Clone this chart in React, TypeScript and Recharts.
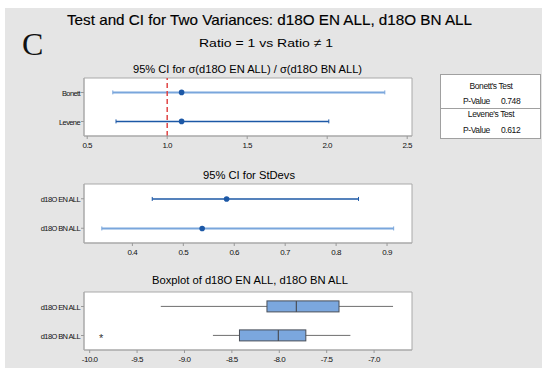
import React from 'react';
import { ComposedChart, Bar, XAxis, YAxis, CartesianGrid, ReferenceLine } from 'recharts';

// ---------- data ----------
const ratioTests = ['Bonett', 'Levene'];
const ratioEst = [1.09, 1.09];
const ratioLow = [0.66, 0.68];
const ratioHigh = [2.36, 2.01];
const ratioTicks = [0.5, 1.0, 1.5, 2.0, 2.5];

const sdGroups = ['d18O EN ALL', 'd18O BN ALL'];
const sdEst = [0.585, 0.537];
const sdLow = [0.439, 0.34];
const sdHigh = [0.844, 0.913];
const sdTicks = [0.4, 0.5, 0.6, 0.7, 0.8, 0.9];

const boxGroups = ['d18O EN ALL', 'd18O BN ALL'];
const boxMin = [-9.25, -8.7];
const boxQ1 = [-8.13, -8.42];
const boxMedian = [-7.82, -8.01];
const boxQ3 = [-7.37, -7.72];
const boxMax = [-6.8, -7.25];
const boxOutliers: number[][] = [[], [-9.88]];
const boxTicks = [-10.0, -9.5, -9.0, -8.5, -8.0, -7.5, -7.0];

const testNames = ["Bonett's Test", "Levene's Test"];
const pValues = ['0.748', '0.612'];

// ---------- derived tables ----------
const ratioData = ratioTests.map((name, i) => ({ name, est: ratioEst[i], range: [ratioLow[i], ratioHigh[i]] }));
const sdData = sdGroups.map((name, i) => ({ name, est: sdEst[i], range: [sdLow[i], sdHigh[i]] }));
const boxData = boxGroups.map((name, i) => ({
  name, range: [boxMin[i], boxMax[i]], q1: boxQ1[i], med: boxMedian[i], q3: boxQ3[i], out: boxOutliers[i],
}));

// ---------- styles ----------
const FONT = '"Liberation Sans", "DejaVu Sans", sans-serif';
const DARK_BLUE = '#1c58a6';
const LIGHT_BLUE = '#79a6dc';
const ratioLineColors = [LIGHT_BLUE, DARK_BLUE];
const sdLineColors = [DARK_BLUE, LIGHT_BLUE];
const ratioLineWidths = [2, 1.5];
const sdLineWidths = [1.5, 2];

const makeCIShape = (colors: string[], widths: number[]) => (props: any) => {
  const { x, y, width, height, payload, index } = props;
  const cy = y + height / 2;
  const lo = payload.range[0];
  const hi = payload.range[1];
  const px = (v: number) => x + (width * (v - lo)) / (hi - lo);
  const c = colors[index % colors.length];
  return (
    <g>
      <line x1={x} y1={cy} x2={x + width} y2={cy} stroke={c} strokeWidth={widths[index % widths.length]} />
      <line x1={x} y1={cy - 2} x2={x} y2={cy + 2} stroke={c} strokeWidth={1} />
      <line x1={x + width} y1={cy - 2} x2={x + width} y2={cy + 2} stroke={c} strokeWidth={1} />
      <circle cx={px(payload.est)} cy={cy} r={2.8} fill={DARK_BLUE} />
    </g>
  );
};

const BoxShape = (props: any) => {
  const { x, y, width, height, payload } = props;
  const cy = y + height / 2;
  const lo = payload.range[0];
  const hi = payload.range[1];
  const px = (v: number) => x + (width * (v - lo)) / (hi - lo);
  const bh = 11;
  return (
    <g>
      <line x1={x} y1={cy} x2={x + width} y2={cy} stroke="#6e6e6e" strokeWidth={1} />
      <rect x={px(payload.q1)} y={cy - bh / 2} width={px(payload.q3) - px(payload.q1)} height={bh} fill="#7ba7de" stroke="#4a4f58" strokeWidth={1} />
      <line x1={px(payload.med)} y1={cy - bh / 2} x2={px(payload.med)} y2={cy + bh / 2} stroke="#4a4f58" strokeWidth={1.2} />
      {payload.out.map((v: number, k: number) => (
        <text key={k} x={px(v)} y={cy + 7} textAnchor="middle" fontSize={11} fill="#333" fontFamily={FONT}>*</text>
      ))}
    </g>
  );
};

const YTick = (props: any) => {
  const { x, y, payload } = props;
  return (
    <text x={x} y={y} dy={3} textAnchor="end" fontSize={7.5} fill="#111" fontFamily={FONT} letterSpacing={-0.6}>
      {payload.value}
    </text>
  );
};

const borderH = ({ offset }: any) => [offset.top, offset.top + offset.height];
const borderV = ({ offset }: any) => [offset.left, offset.left + offset.width];

const tickStyle = { fontSize: 8, fill: '#111', fontFamily: FONT, letterSpacing: -0.5 };

function Panel(props: {
  top: number; height: number; data: any[]; domain: [number, number]; ticks: number[];
  fmt: (v: number) => string; shape: any; children?: React.ReactNode;
}) {
  const { top, height, data, domain, ticks, fmt, shape, children } = props;
  return (
    <div style={{ position: 'absolute', left: 0, top }}>
      <ComposedChart width={420} height={height} data={data} layout="vertical" margin={{ top: 8, right: 8, bottom: 0, left: 0 }}>
        <CartesianGrid fill="#ffffff" stroke="#a9a9a9" horizontalCoordinatesGenerator={borderH} verticalCoordinatesGenerator={borderV} />
        <XAxis type="number" domain={domain} allowDataOverflow ticks={ticks} interval={0} tickFormatter={fmt}
          height={19} tickSize={3} tickMargin={3} tick={tickStyle} stroke="#a9a9a9" tickLine={{ stroke: '#999' }} axisLine={{ stroke: '#a9a9a9' }} />
        <YAxis type="category" dataKey="name" width={84} tickSize={3} tickMargin={1} tick={<YTick />}
          tickLine={{ stroke: '#999' }} axisLine={{ stroke: '#a9a9a9' }} />
        {children}
        <Bar dataKey="range" shape={shape} isAnimationActive={false} />
      </ComposedChart>
    </div>
  );
}

export default function App() {
  return (
    <div style={{ position: 'absolute', left: 0, top: 0, width: 542, height: 368, background: '#ffffff', overflow: 'hidden' }}>
      <div style={{ position: 'absolute', left: 5, top: 8, width: 537, height: 360, background: '#e5e5e5' }} />
      <Panel top={70} height={85} data={ratioData} domain={[0.48, 2.53]} ticks={ratioTicks} fmt={(v) => v.toFixed(1)}
        shape={makeCIShape(ratioLineColors, ratioLineWidths)}>
        <ReferenceLine x={1} stroke="#e04545" strokeWidth={1.5} strokeDasharray="5 3" />
      </Panel>
      <Panel top={176} height={86} data={sdData} domain={[0.305, 0.949]} ticks={sdTicks} fmt={(v) => v.toFixed(1)}
        shape={makeCIShape(sdLineColors, sdLineWidths)} />
      <Panel top={284} height={85} data={boxData} domain={[-10.06, -6.6]} ticks={boxTicks} fmt={(v) => v.toFixed(1)}
        shape={BoxShape} />
      <svg width={542} height={368} style={{ position: 'absolute', left: 0, top: 0, pointerEvents: 'none' }}>
        <text x={22} y={55} fontSize={32} fontFamily='"Liberation Serif", "DejaVu Serif", serif' fill="#111">C</text>
        <text x={67} y={25} fontSize={14.5} fontFamily={FONT} fill="#000" stroke="#000" strokeWidth={0.15} textLength={405} lengthAdjust="spacingAndGlyphs">
          Test and CI for Two Variances: d18O EN ALL, d18O BN ALL
        </text>
        <text x={199} y={47} fontSize={11.5} fontFamily={FONT} fill="#000" textLength={134} lengthAdjust="spacingAndGlyphs">
          Ratio = 1 vs Ratio ≠ 1
        </text>
        <text x={133} y={73} fontSize={10.5} fontFamily={FONT} fill="#000" textLength={229} lengthAdjust="spacingAndGlyphs">
          95% CI for σ(d18O EN ALL) / σ(d18O BN ALL)
        </text>
        <text x={203} y={179} fontSize={10.5} fontFamily={FONT} fill="#000" textLength={92} lengthAdjust="spacingAndGlyphs">
          95% CI for StDevs
        </text>
        <text x={152} y={284} fontSize={10.5} fontFamily={FONT} fill="#000" textLength={196} lengthAdjust="spacingAndGlyphs">
          Boxplot of d18O EN ALL, d18O BN ALL
        </text>
        <rect x={440.5} y={74.5} width={100} height={64} fill="#ffffff" stroke="#a0a0a0" />
        <line x1={440.5} y1={108.5} x2={540.5} y2={108.5} stroke="#a0a0a0" />
        {testNames.map((t, i) => (
          <g key={t}>
            <text x={491} y={89 + i * 28} fontSize={8.5} fontFamily={FONT} fill="#111" textAnchor="middle" letterSpacing={-0.4}>{t}</text>
            <text x={463} y={104 + i * 29} fontSize={8.5} fontFamily={FONT} fill="#111" letterSpacing={-0.4}>P-Value</text>
            <text x={501} y={104 + i * 29} fontSize={8.5} fontFamily={FONT} fill="#111" letterSpacing={-0.4}>{pValues[i]}</text>
          </g>
        ))}
      </svg>
    </div>
  );
}
